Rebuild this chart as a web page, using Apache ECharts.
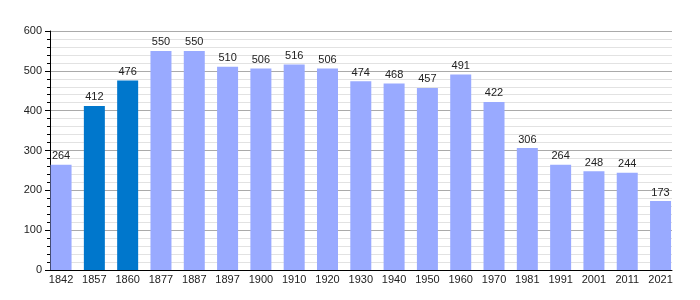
<!DOCTYPE html>
<html><head><meta charset="utf-8">
<script src="https://cdn.jsdelivr.net/npm/echarts@6/dist/echarts.min.js"></script>
<style>html,body{margin:0;padding:0;background:#fff}#c{width:700px;height:300px}</style>
</head><body><div id="c"></div>
<script>
const years = ['1842','1857','1860','1877','1887','1897','1900','1910','1920','1930','1940','1950','1960','1970','1981','1991','2001','2011','2021'];
const population = [264,412,476,550,550,510,506,516,506,474,468,457,491,422,306,264,248,244,173];
const highlighted = ['1857','1860'];
const yTicks = [0,100,200,300,400,500,600];

const light = '#99aaff', dark = '#0077cc';
const font = 'Liberation Sans, Arial, sans-serif';
const chart = echarts.init(document.getElementById('c'), null, {renderer:'canvas'});
chart.setOption({
  animation:false,
  grid:[
    {left:50, right:28, top:31, bottom:30},
    {left:44.4, right:22.8, top:31, bottom:30}
  ],
  xAxis:[
    {gridIndex:0, type:'value', min:0, max:1, axisLine:{show:true,lineStyle:{color:'#000',width:1}}, axisTick:{show:false}, axisLabel:{show:false}, splitLine:{show:false}},
    {gridIndex:1, type:'category', data:years, axisLine:{show:false}, axisTick:{show:false},
     axisLabel:{color:'#222', fontSize:11, fontFamily:font, margin:4, interval:0}}
  ],
  yAxis:[
    {gridIndex:0, type:'value', min:yTicks[0], max:yTicks[yTicks.length-1], interval:100,
     axisLine:{show:true,lineStyle:{color:'#000'}},
     axisTick:{show:true,length:5,lineStyle:{color:'#000'}},
     minorTick:{show:true,splitNumber:5,length:3,lineStyle:{color:'#000'}},
     axisLabel:{color:'#222', fontSize:11, fontFamily:font, margin:8},
     splitLine:{show:true,lineStyle:{color:'#aaaaaa',width:1}},
     minorSplitLine:{show:true,lineStyle:{color:'#e2e2e2',width:1}}},
    {gridIndex:1, type:'value', min:0, max:600, show:false}
  ],
  series:[{
    type:'bar', xAxisIndex:1, yAxisIndex:1, barWidth:21,
    data: population.map((v,i)=>({value:v, itemStyle:{color: highlighted.includes(years[i]) ? dark : light}})),
    label:{show:true, position:'top', distance:3, color:'#222', fontSize:11, fontFamily:font}
  }]
});
</script></body></html>
